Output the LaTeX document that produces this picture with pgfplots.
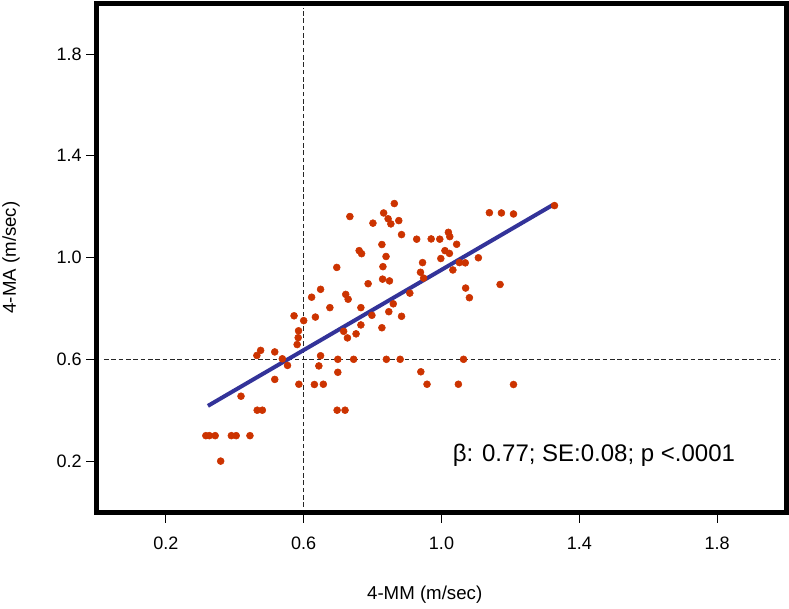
\documentclass[border=0pt]{standalone}
\usepackage{fontspec}
\setmainfont{Liberation Sans}
\usepackage{pgfplots}
\pgfplotsset{compat=1.18}
\definecolor{dotred}{RGB}{204,51,0}
\definecolor{lineblue}{RGB}{51,51,153}
\pgfplotstableread{
x y
0.316 0.300
0.326 0.300
0.343 0.300
0.390 0.300
0.404 0.300
0.444 0.300
0.359 0.200
0.418 0.455
0.465 0.400
0.480 0.400
0.464 0.615
0.475 0.635
0.516 0.629
0.538 0.602
0.553 0.576
0.516 0.521
0.586 0.502
0.631 0.501
0.657 0.502
0.649 0.614
0.644 0.574
0.699 0.600
0.745 0.600
0.699 0.549
0.697 0.400
0.720 0.400
0.585 0.712
0.584 0.685
0.581 0.658
0.572 0.771
0.634 0.766
0.600 0.752
0.623 0.844
0.649 0.875
0.676 0.803
0.696 0.961
0.722 0.855
0.729 0.836
0.716 0.710
0.727 0.684
0.752 0.700
0.766 0.735
0.766 0.803
0.787 0.897
0.798 0.773
0.827 0.724
0.847 0.787
0.860 0.818
0.884 0.769
0.908 0.860
0.840 0.600
0.880 0.600
1.064 0.600
0.940 0.551
0.958 0.502
1.049 0.502
1.209 0.501
0.827 1.051
0.839 1.004
0.830 0.964
0.829 0.915
0.849 0.908
0.761 1.027
0.768 1.015
0.734 1.161
0.801 1.135
0.832 1.175
0.845 1.152
0.853 1.132
0.863 1.212
0.876 1.145
0.884 1.090
0.928 1.072
0.970 1.073
0.995 1.072
1.020 1.099
1.024 1.082
1.044 1.052
1.010 1.027
1.023 1.016
0.998 0.996
0.945 0.980
0.939 0.942
0.948 0.919
1.033 0.951
1.052 0.980
1.069 0.979
1.107 0.999
1.139 1.176
1.174 1.175
1.209 1.171
1.328 1.204
1.170 0.894
1.070 0.880
1.081 0.842
}\pointdata
\begin{document}
\begin{tikzpicture}
\path[use as bounding box] (-72.75pt,-72pt) rectangle (519pt,384pt);
\begin{axis}[
  at={(0,0)}, anchor=south west,
  scale only axis,
  width=516.75pt, height=381.75pt,
  xmin=0, xmax=2, ymin=0, ymax=2,
  axis line style={line width=3.75pt, line join=miter},
  xtick={0.2,0.6,1.0,1.4,1.8},
  ytick={0.2,0.6,1.0,1.4,1.8},
  xtick pos=bottom, ytick pos=left,
  tick align=outside,
  major tick length=7.9pt,
  tick style={black, line width=0.6pt},
  /pgf/number format/assume math mode=true,
  /pgf/number format/fixed, /pgf/number format/fixed zerofill,
  /pgf/number format/precision=1,
  tick label style={font=\fontsize{13.5}{15}\selectfont},
  xticklabel style={yshift=-7.5pt},
  xlabel={4-MM (m/sec)},
  ylabel={4-MA (m/sec)},
  label style={font=\fontsize{14}{16}\selectfont},
  xlabel style={at={(axis description cs:0.4756,-0.1631)}, anchor=center},
  ylabel style={at={(axis description cs:-0.1248,0.5)}, anchor=center},
  clip=false,
]
\addplot[black!85, line width=0.8pt, dash pattern=on 3.5pt off 2pt] coordinates {(0.02,0.6) (1.98,0.6)};
\addplot[black!85, line width=0.8pt, dash pattern=on 3.5pt off 2pt] coordinates {(0.6,0.02) (0.6,1.98)};
\addplot[only marks, mark=*, mark size=2.6pt, color=dotred, mark options={draw=dotred, fill=dotred}] table {\pointdata};
\addplot[lineblue, line width=3pt] coordinates {(0.322,0.417) (1.325,1.208)};
\node[anchor=base west, inner sep=0pt, font=\fontsize{18}{20}\selectfont] at (axis cs:1.032,0.2) {β: 0.77; SE:0.08; p <.0001};
\end{axis}
\end{tikzpicture}
\end{document}
